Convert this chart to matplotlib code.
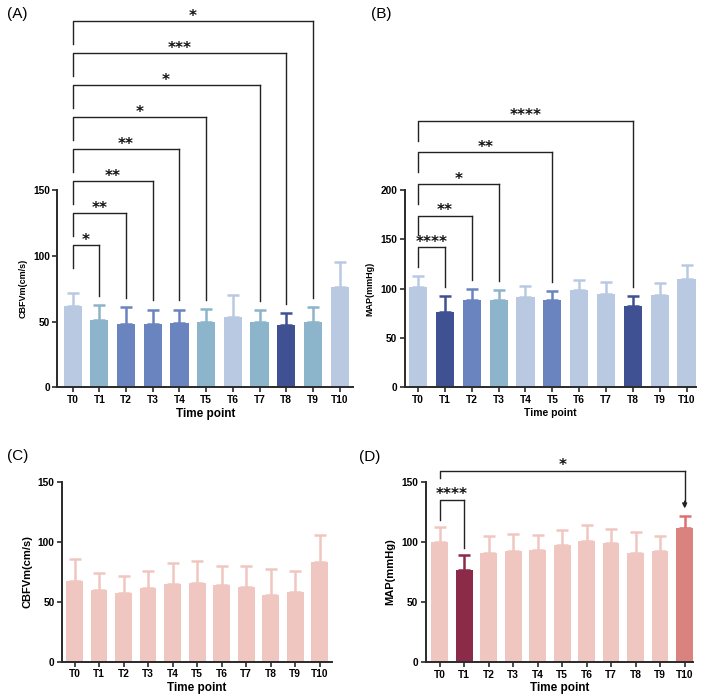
import matplotlib
matplotlib.use("Agg")
import matplotlib.pyplot as plt
import numpy as np

plt.rcParams['font.family'] = ['Liberation Sans', 'DejaVu Sans']

# ---------------- data ----------------
time_points = ["T0", "T1", "T2", "T3", "T4", "T5", "T6", "T7", "T8", "T9", "T10"]

# (A) CBFVm, group 1
a_mean = [61.9, 50.8, 48.5, 48.2, 49.2, 49.5, 53.8, 49.5, 47.7, 50.0, 76.6]
a_err = [10.1, 11.4, 12.7, 10.9, 9.9, 9.9, 16.0, 8.9, 8.9, 10.7, 18.6]
# (B) MAP, group 1
b_mean = [101.5, 76.8, 88.0, 88.7, 92.0, 88.3, 98.5, 94.4, 82.9, 94.0, 109.3]
b_err = [11.5, 15.9, 11.8, 10.1, 10.5, 9.2, 10.5, 12.2, 9.8, 12.0, 14.9]
# (C) CBFVm, group 2
c_mean = [67.5, 60.0, 57.2, 61.1, 64.4, 65.8, 63.9, 62.2, 55.8, 58.0, 83.0]
c_err = [18.0, 14.2, 13.9, 14.7, 18.1, 17.8, 16.1, 17.5, 21.4, 17.6, 22.3]
# (D) MAP, group 2
d_mean = [100.0, 76.4, 90.3, 92.2, 92.8, 97.2, 100.6, 98.9, 90.6, 92.2, 111.4]
d_err = [12.0, 12.8, 14.4, 14.2, 13.0, 12.5, 13.0, 11.9, 17.7, 12.8, 10.3]

# significance comparisons vs T0
a_targets = [1, 2, 3, 4, 5, 7, 8, 9]
a_stars = ["*", "**", "**", "**", "*", "*", "***", "*"]
b_targets = [1, 2, 3, 5, 8]
b_stars = ["****", "**", "*", "**", "****"]
d_targets = [1, 10]
d_stars = ["****", "*"]

# colours
LB = "#b9c9e2"   # light blue
TL = "#8cb4cb"   # teal blue
MB = "#6a84c0"   # medium blue
DB = "#3f5193"   # dark blue
PK = "#f0c6c0"   # light pink
MR = "#8c2a4a"   # maroon
SA = "#d9827e"   # salmon

a_colors = [LB, TL, MB, MB, MB, TL, LB, TL, DB, TL, LB]
b_colors = [LB, DB, MB, TL, LB, MB, LB, LB, DB, LB, LB]
c_colors = [PK] * 11
d_colors = [PK, MR, PK, PK, PK, PK, PK, PK, PK, PK, SA]
d_err_colors = [PK, MR, PK, PK, PK, PK, PK, PK, PK, PK, "#e07070"]

fig = plt.figure(figsize=(7.08, 7.0), dpi=100)
fig.patch.set_facecolor("white")

axA = fig.add_axes([0.0812, 0.4467, 0.4174, 0.2819])
axB = fig.add_axes([0.5716, 0.4467, 0.4114, 0.2819])
axC = fig.add_axes([0.0880, 0.0547, 0.3810, 0.2571])
axD = fig.add_axes([0.6013, 0.0543, 0.3775, 0.2577])

SPINE = "#2a2a2a"


def bars(ax, means, errs, colors, ecolors, ylim, yticks, xlim, ylabel, ylsize, xlsize):
    x = np.arange(len(means))
    ax.bar(x, means, width=0.68, color=colors, zorder=2)
    for xi, m, e, c in zip(x, means, errs, ecolors):
        ax.errorbar(xi, m, yerr=[[0], [e]], fmt="none", ecolor=c,
                    elinewidth=1.8, capsize=4.3, capthick=1.8, zorder=1)
    ax.set_xlim(*xlim)
    ax.set_ylim(*ylim)
    ax.set_yticks(yticks)
    ax.set_xticks(x)
    ax.set_xticklabels(time_points)
    for s in ["top", "right"]:
        ax.spines[s].set_visible(False)
    for s in ["left", "bottom"]:
        ax.spines[s].set_linewidth(1.4)
        ax.spines[s].set_color(SPINE)
    ax.tick_params(axis="both", direction="out", length=3.5, width=1.2,
                   color=SPINE, labelsize=7.3, pad=2)
    for lab in ax.get_xticklabels() + ax.get_yticklabels():
        lab.set_fontweight("bold")
    ax.set_ylabel(ylabel, fontsize=ylsize, fontweight="bold", labelpad=4)
    ax.set_xlabel("Time point", fontsize=xlsize, fontweight="bold", labelpad=2)


def bracket(ax, x1, x2, y, yl, yr, text, px_per_unit, arrow=False):
    kw = dict(color="#222222", lw=1.0, clip_on=False, zorder=3)
    ax.plot([x1, x1, x2], [yl, y, y], **kw)
    if arrow:
        ax.plot([x2, x2], [y, yr + 3], **kw)
        ax.annotate("", xy=(x2, yr), xytext=(x2, yr + 6),
                    arrowprops=dict(arrowstyle="-|>", color="#222222", lw=1.0,
                                    mutation_scale=7, shrinkA=0, shrinkB=0),
                    annotation_clip=False)
    else:
        ax.plot([x2, x2], [y, yr], **kw)
    ax.text((x1 + x2) / 2, y + 0.5 / px_per_unit, text, ha="center", va="baseline",
            fontsize=11, fontweight="bold", color="#111111", clip_on=False,
            family="DejaVu Sans")


# (A)
bars(axA, a_mean, a_err, a_colors, a_colors, (0, 150), [0, 50, 100, 150],
     (-0.57, 10.5), "CBFVm(cm/s)", 6.5, 8.5)
ppu_a = 197 / 150
for i, (t, s) in enumerate(zip(a_targets, a_stars)):
    y = 108 + i * 24.3
    bracket(axA, 0, t, y, y - 17, a_mean[t] + a_err[t] + 7, s, ppu_a)

# (B)
bars(axB, b_mean, b_err, b_colors, b_colors, (0, 200), [0, 50, 100, 150, 200],
     (-0.5, 10.35), "MAP(mmHg)", 6.5, 7.5)
ppu_b = 197 / 200
for i, (t, s) in enumerate(zip(b_targets, b_stars)):
    y = 142 + i * 32
    bracket(axB, 0, t, y, y - 20, b_mean[t] + b_err[t] + 9, s, ppu_b)

# (C)
bars(axC, c_mean, c_err, c_colors, c_colors, (0, 150), [0, 50, 100, 150],
     (-0.5, 10.5), "CBFVm(cm/s)", 8, 8.5)

# (D)
bars(axD, d_mean, d_err, d_colors, d_err_colors, (0, 150), [0, 50, 100, 150],
     (-0.57, 10.34), "MAP(mmHg)", 8, 8.5)
ppu_d = 180 / 150
bracket(axD, 0, d_targets[0], 135, 118, d_mean[1] + d_err[1] + 6, d_stars[0], ppu_d)
bracket(axD, 0, d_targets[1], 159, 153, d_mean[10] + d_err[10] + 6, d_stars[1], ppu_d,
        arrow=True)

# panel labels
for lab, (x, y) in zip(["(A)", "(B)", "(C)", "(D)"],
                       [(7, 14), (371, 14), (7, 456), (359, 457)]):
    fig.text(x / 708, 1 - y / 700, lab, fontsize=11, ha="left", va="center")

fig.savefig("out.png", dpi=100, facecolor="white")
